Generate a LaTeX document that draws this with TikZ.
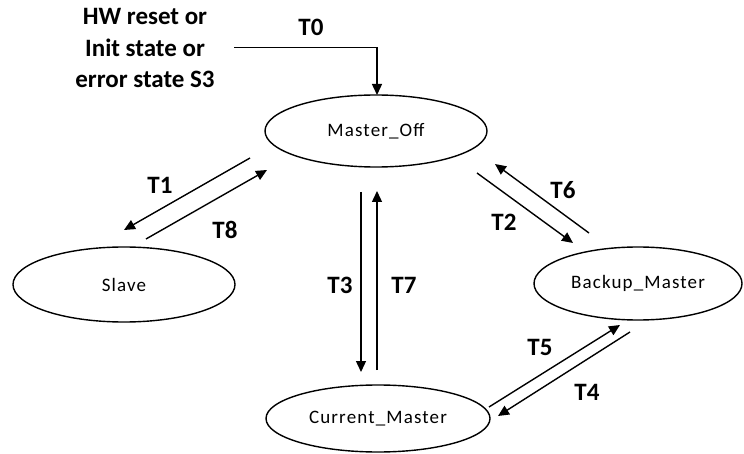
\documentclass[tikz,border=0pt]{standalone}
\usepackage{fontspec}
\setmainfont{Carlito}
\newfontfamily\statefont[LetterSpace=6]{Carlito}
\usetikzlibrary{shapes.geometric,arrows.meta}
\tikzset{
  state/.style={draw, ellipse, line width=1.4pt, inner sep=0pt,
    font=\statefont\fontsize{19}{23}\selectfont},
  lbl/.style={font=\bfseries\fontsize{25}{30}\selectfont, inner sep=0pt},
  arr/.style={line width=1.4pt, -{Triangle[length=11pt,width=10pt]}},
}
\begin{document}
\begin{tikzpicture}[x=1pt,y=-1pt]
\useasboundingbox (0,0) rectangle (744,454);
% states
\node[state, minimum width=222pt, minimum height=72pt] (off) at (376,131) {Master\_Off};
\node[state, minimum width=222pt, minimum height=75pt] (slave) at (124,284.5) {Slave};
\node[state, minimum width=208pt, minimum height=73pt] (backup) at (638,283.5) {Backup\_Master};
\node[state, minimum width=224pt, minimum height=67pt] (current) at (378,418.5) {Current\_Master};
% source text
\node[font=\bfseries\fontsize{25}{31.5}\selectfont, align=center, inner sep=0pt] (src) at (145,48)
  {HW reset or\\Init state or\\error state S3};
% endpoints
\coordinate (t0s) at (234,47.5);
\coordinate (t0c) at (377,47.5);
\coordinate (t0e) at (377,95);
\coordinate (t1s) at (250,158);
\coordinate (t1e) at (124,230);
\coordinate (t8s) at (146,239);
\coordinate (t8e) at (267,170);
\coordinate (t2s) at (477,173);
\coordinate (t2e) at (573,243);
\coordinate (t6s) at (589,233);
\coordinate (t6e) at (495,164);
\coordinate (t3s) at (361,192);
\coordinate (t3e) at (361,372);
\coordinate (t7s) at (377,370);
\coordinate (t7e) at (377,191);
\coordinate (t5s) at (489,407);
\coordinate (t5e) at (620,325);
\coordinate (t4s) at (630,332);
\coordinate (t4e) at (498,416);
% connectors
\draw[arr] (t0s) -- (t0c) -- (t0e);
\draw[arr] (t1s) -- (t1e);
\draw[arr] (t8s) -- (t8e);
\draw[arr] (t2s) -- (t2e);
\draw[arr] (t6s) -- (t6e);
\draw[arr] (t3s) -- (t3e);
\draw[arr] (t7s) -- (t7e);
\draw[arr] (t5s) -- (t5e);
\draw[arr] (t4s) -- (t4e);
% labels
\node[lbl] (l0) at (311,27) {T0};
\node[lbl] (l1) at (160,185) {T1};
\node[lbl] (l8) at (225,230) {T8};
\node[lbl] (l2) at (504,222) {T2};
\node[lbl] (l6) at (563,190) {T6};
\node[lbl] (l3) at (340,285) {T3};
\node[lbl] (l7) at (404,285) {T7};
\node[lbl] (l5) at (540,347) {T5};
\node[lbl] (l4) at (587,392) {T4};
\end{tikzpicture}
\end{document}
